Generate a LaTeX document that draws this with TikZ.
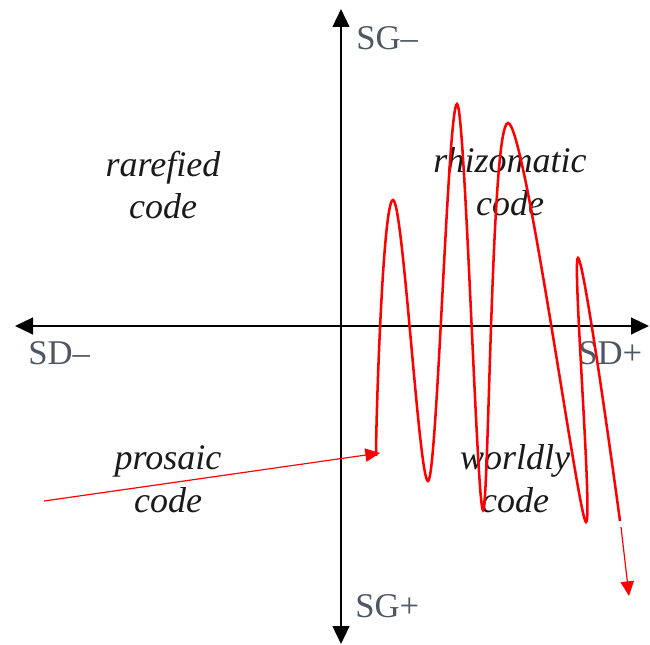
\documentclass[tikz,border=0pt]{standalone}
\usepackage{fontspec}
\setmainfont{Liberation Serif}
\usetikzlibrary{arrows.meta}
\definecolor{ink}{HTML}{1A1A1A}
\definecolor{axlbl}{HTML}{4E5664}
\definecolor{wavered}{HTML}{FF0000}

\begin{document}
\begin{tikzpicture}[
  x=0.75pt, y=-0.75pt,
  axis/.style={line width=1.8pt, draw=black, {Triangle[length=13.5pt,width=12.5pt]}-{Triangle[length=13.5pt,width=12.5pt]}},
  pole/.style={font=\fontsize{26}{30}\selectfont, text=axlbl, inner sep=0pt, anchor=base west},
  quad/.style={font=\fontsize{27}{32}\selectfont\itshape, text=ink, align=center, inner sep=0pt},
  wave/.style={draw=wavered, line width=1.9pt},
  feed/.style={draw=wavered, line width=0.9pt, -{Triangle[length=11pt,width=10pt]}},
]
\useasboundingbox (0,0) rectangle (650,645);
% axes: semantic density (horizontal), semantic gravity (vertical)
\coordinate (west) at (15,326);
\coordinate (east) at (649,326);
\coordinate (north) at (341,9);
\coordinate (south) at (341,644);
\draw[axis] (west) -- (east);
\draw[axis] (south) -- (north);
\node[pole] (sgneg) at (356,50) {SG--};
\node[pole] (sgpos) at (355,617) {SG+};
\node[pole] (sdneg) at (28,365) {SD--};
\node[pole] (sdpos) at (578,365) {SD+};
% quadrant codes
\node[quad] (rarefied) at (163,185) {rarefied\\code};
\node[quad] (rhizomatic) at (510,182) {rhizomatic\\code};
\node[quad] (prosaic) at (168,479) {prosaic\\code};
\node[quad] (worldly) at (515,479) {worldly\\code};
% semantic wave
\coordinate (source) at (44,501);
\coordinate (w0tip) at (380,453);
\coordinate (w0) at (376,456);
\coordinate (p1) at (393,200);
\coordinate (t1) at (428,481);
\coordinate (p2) at (457,104);
\coordinate (t2) at (483,510);
\coordinate (p3) at (508,123);
\coordinate (t3) at (586,522);
\coordinate (p4) at (578,258);
\coordinate (w1) at (620,521);
\coordinate (w2) at (621,527);
\coordinate (sink) at (629,596);
\draw[feed] (source) -- (w0tip);
\draw[wave] (w0) .. controls +(0,-40) and +(-10,0) .. (p1)
  .. controls +(10,0) and +(-9,0) .. (t1)
  .. controls +(9,0) and +(-9,0) .. (p2)
  .. controls +(8,0) and +(-6,0) .. (t2)
  .. controls +(6,0) and +(-17,0) .. (p3)
  .. controls +(17,0) and +(-7,0) .. (t3)
  .. controls +(7,0) and +(-6,0) .. (p4)
  .. controls +(6,0) and +(-4,-30) .. (w1);
\draw[feed] (w2) -- (sink);
\end{tikzpicture}
\end{document}
